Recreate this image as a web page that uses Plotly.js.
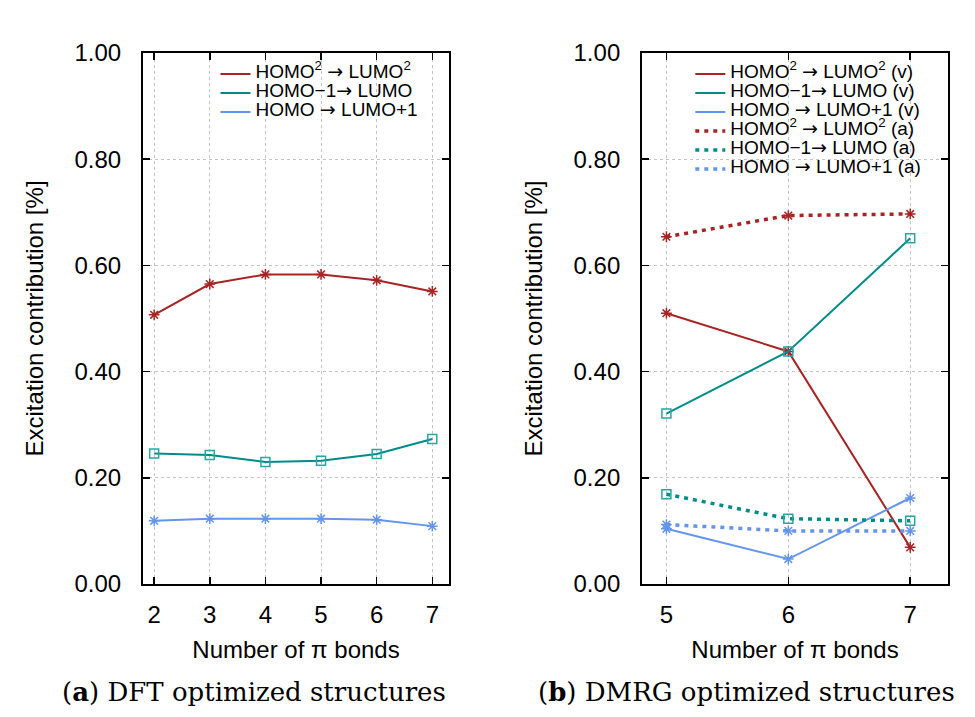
<!DOCTYPE html>
<html>
<head>
<meta charset="utf-8">
<script src="https://cdn.plot.ly/plotly-3.0.1.min.js"></script>
<style>
  html, body { margin: 0; padding: 0; background: #fff; }
  #chart { width: 975px; height: 717px; }
</style>
</head>
<body>
<div id="chart"></div>
<script>
// (a) DFT optimized structures
const dftBonds = [2, 3, 4, 5, 6, 7];
const dftHomo2Lumo2 = [0.507, 0.565, 0.583, 0.583, 0.572, 0.551];
const dftHomo1Lumo = [0.246, 0.243, 0.230, 0.232, 0.245, 0.273];
const dftHomoLumo1 = [0.119, 0.123, 0.123, 0.123, 0.121, 0.109];

// (b) DMRG optimized structures, (v) and (a) variants
const dmrgBonds = [5, 6, 7];
const dmrgHomo2Lumo2V = [0.510, 0.438, 0.069];
const dmrgHomo1LumoV = [0.321, 0.438, 0.651];
const dmrgHomoLumo1V = [0.104, 0.047, 0.162];
const dmrgHomo2Lumo2A = [0.654, 0.694, 0.697];
const dmrgHomo1LumoA = [0.169, 0.123, 0.119];
const dmrgHomoLumo1A = [0.112, 0.100, 0.100];

const yTicks = [0, 0.2, 0.4, 0.6, 0.8, 1.0];
const yTickText = ['0.00', '0.20', '0.40', '0.60', '0.80', '1.00'];

// legend labels: a wide arrow glyph and a larger font inside a compact legend row
const ARROW = '<span style="font-family:DejaVu Sans">\u2192</span>';
const wrap = s => '<span style="font-size:19px">' + s + '</span>';
const names = {
  h2: 'HOMO<sup>2</sup> ' + ARROW + ' LUMO<sup>2</sup>',
  h1: 'HOMO\u22121' + ARROW + ' LUMO',
  hl: 'HOMO ' + ARROW + ' LUMO+1'
};

const RED = '#a82424', TEAL = '#008b8b', TEAL_M = '#2aa5a5', BLUE = '#6495ed';

// one line trace (in the legend) plus one marker trace per series
function series(x, y, name, color, mcolor, symbol, dash, xa, ya, legend) {
  const lw = dash === 'solid' ? 2 : 3.5;
  return [
    {
      x, y, name: wrap(name), type: 'scatter', mode: 'lines', xaxis: xa, yaxis: ya, legend,
      line: { color, width: lw, dash: dash === 'solid' ? 'solid' : '4px,5px' },
      hoverinfo: 'skip'
    },
    {
      x, y, name, type: 'scatter', mode: 'markers', xaxis: xa, yaxis: ya,
      showlegend: false,
      marker: symbol === 'square'
        ? { symbol: 'square-open', size: 9, color: mcolor, line: { width: 1.5, color: mcolor } }
        : { symbol: 'asterisk-open', size: 9, color: mcolor, line: { width: 1.5, color: mcolor } }
    }
  ];
}

const traces = [].concat(
  series(dftBonds, dftHomo2Lumo2, names.h2, RED, RED, 'star', 'solid', 'x', 'y', 'legend'),
  series(dftBonds, dftHomo1Lumo, names.h1, TEAL, TEAL_M, 'square', 'solid', 'x', 'y', 'legend'),
  series(dftBonds, dftHomoLumo1, names.hl, BLUE, BLUE, 'star', 'solid', 'x', 'y', 'legend'),
  series(dmrgBonds, dmrgHomo2Lumo2V, names.h2 + ' (v)', RED, RED, 'star', 'solid', 'x2', 'y2', 'legend2'),
  series(dmrgBonds, dmrgHomo1LumoV, names.h1 + ' (v)', TEAL, TEAL_M, 'square', 'solid', 'x2', 'y2', 'legend2'),
  series(dmrgBonds, dmrgHomoLumo1V, names.hl + ' (v)', BLUE, BLUE, 'star', 'solid', 'x2', 'y2', 'legend2'),
  series(dmrgBonds, dmrgHomo2Lumo2A, names.h2 + ' (a)', RED, RED, 'star', 'dot', 'x2', 'y2', 'legend2'),
  series(dmrgBonds, dmrgHomo1LumoA, names.h1 + ' (a)', TEAL, TEAL_M, 'square', 'dot', 'x2', 'y2', 'legend2'),
  series(dmrgBonds, dmrgHomoLumo1A, names.hl + ' (a)', BLUE, BLUE, 'star', 'dot', 'x2', 'y2', 'legend2')
);

const SANS = 'Liberation Sans, Arial, sans-serif';
const SERIF = 'DejaVu Serif, Liberation Serif, serif';

function xAxis(domain, range, tickvals, anchor) {
  return {
    domain, range, tickvals, anchor,
    ticks: 'inside', ticklen: 7, tickwidth: 1.5, tickcolor: '#000',
    showline: true, linecolor: '#000', linewidth: 2, mirror: 'allticks',
    showgrid: true, gridcolor: '#c4c4c4', gridwidth: 1, griddash: 'dot',
    zeroline: false, ticklabelstandoff: 8,
    tickfont: { family: SANS, size: 24, color: '#000' },
    title: { text: 'Number of \u03c0 bonds', font: { family: SANS, size: 24, color: '#000' }, standoff: 14 }
  };
}
function yAxis(anchor) {
  return {
    domain: [0.1855, 0.926], range: [0, 1], anchor,
    tickvals: yTicks, ticktext: yTickText,
    ticks: 'inside', ticklen: 7, tickwidth: 1.5, tickcolor: '#000',
    showline: true, linecolor: '#000', linewidth: 2, mirror: 'allticks',
    showgrid: true, gridcolor: '#c4c4c4', gridwidth: 1, griddash: 'dot',
    zeroline: false, ticklabelstandoff: 15,
    tickfont: { family: SANS, size: 24, color: '#000' },
    title: { text: 'Excitation contribution [%]', font: { family: SANS, size: 24, color: '#000' }, standoff: 24 }
  };
}

const legendStyle = {
  bgcolor: 'rgba(0,0,0,0)', borderwidth: 0,
  font: { family: SANS, size: 11, color: '#000' },
  xanchor: 'left', yanchor: 'top', itemwidth: 30, tracegroupgap: 0
};

const layout = {
  width: 975, height: 717,
  margin: { l: 0, r: 0, t: 0, b: 0 },
  paper_bgcolor: '#fff', plot_bgcolor: '#fff',
  showlegend: true,
  xaxis: xAxis([0.1467, 0.4605], [1.8, 7.3], dftBonds, 'y'),
  yaxis: yAxis('x'),
  xaxis2: xAxis([0.6585, 0.9723], [4.8, 7.31], dmrgBonds, 'y2'),
  yaxis2: yAxis('x2'),
  legend: Object.assign({ x: 0.221, y: 0.917 }, legendStyle),
  legend2: Object.assign({ x: 0.708, y: 0.917 }, legendStyle),
  annotations: [
    {
      text: '(<b>a</b>) DFT optimized structures', xref: 'paper', yref: 'paper',
      x: 0.26, y: 0.035, xanchor: 'center', yanchor: 'middle', showarrow: false,
      font: { family: SERIF, size: 26, color: '#000' }
    },
    {
      text: '(<b>b</b>) DMRG optimized structures', xref: 'paper', yref: 'paper',
      x: 0.766, y: 0.035, xanchor: 'center', yanchor: 'middle', showarrow: false,
      font: { family: SERIF, size: 26, color: '#000' }
    }
  ]
};

Plotly.newPlot('chart', traces, layout, { displayModeBar: false, staticPlot: true });
</script>
</body>
</html>
